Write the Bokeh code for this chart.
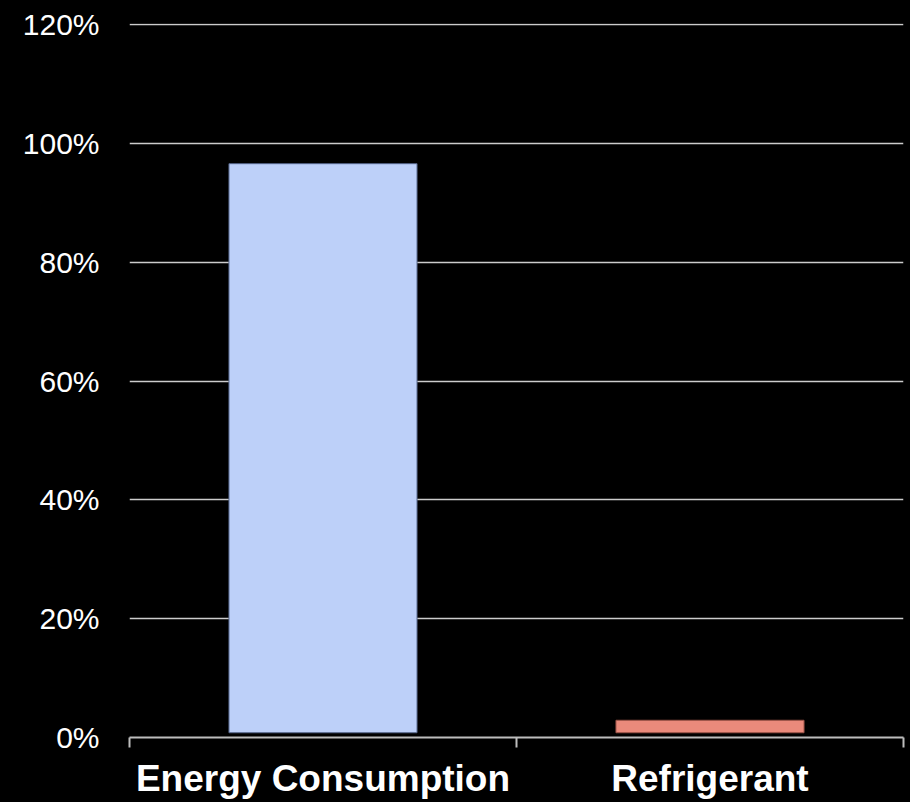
from bokeh.plotting import figure
from bokeh.models import Range1d, FixedTicker, LinearAxis, NumeralTickFormatter
from bokeh.embed import file_html
from bokeh.resources import INLINE

# Data
categories = ["Energy Consumption", "Refrigerant"]
shares = [0.966, 0.029]
bar_colors = ["#BDD0F9", "#EA8A7B"]
edge_colors = ["#55658a", "#9a5247"]
y_ticks = [0, 0.2, 0.4, 0.6, 0.8, 1.0, 1.2]

xs = [i + 0.5 for i in range(len(categories))]

p = figure(width=910, height=802, output_backend="svg", toolbar_location=None,
           x_range=Range1d(0, len(categories)), y_range=Range1d(0, 1.202),
           min_border_left=129, min_border_right=7, min_border_top=23, min_border_bottom=65,
           x_axis_type=None, outline_line_color=None)
p.background_fill_color = "black"
p.border_fill_color = "black"
p.border_line_color = None
p.styles = {"background-color": "black"}

p.vbar(x=xs, width=0.486, bottom=0.008, top=shares, fill_color=bar_colors,
       line_color=edge_colors, line_width=1)

# y axis
ya = p.yaxis[0]
ya.ticker = FixedTicker(ticks=y_ticks)
ya.formatter = NumeralTickFormatter(format="0%")
ya.axis_line_color = None
ya.major_tick_line_color = None
ya.minor_tick_line_color = None
ya.major_tick_out = 0
ya.major_tick_in = 0
ya.major_label_standoff = 30
ya.major_label_text_color = "white"
ya.major_label_text_font = "Liberation Sans"
ya.major_label_text_font_size = "30px"

p.ygrid.ticker = FixedTicker(ticks=y_ticks)
p.ygrid.grid_line_color = "#cccccc"
p.ygrid.grid_line_width = 1.6
p.ygrid.level = "underlay"

# boundary axis (ticks at category edges)
bx = LinearAxis(ticker=FixedTicker(ticks=list(range(len(categories) + 1))))
bx.axis_line_color = "#bdbdbd"
bx.axis_line_width = 2
bx.major_tick_line_color = "#bdbdbd"
bx.major_tick_line_width = 2
bx.major_tick_out = 10
bx.major_tick_in = 0
bx.minor_tick_line_color = None
bx.major_label_text_font_size = "0px"
bx.major_label_standoff = 0
bx.major_label_overrides = {i: "" for i in range(len(categories) + 1)}
p.add_layout(bx, "below")

# label axis at category centers
lx = LinearAxis(ticker=FixedTicker(ticks=xs))
lx.axis_line_color = None
lx.major_tick_line_color = None
lx.minor_tick_line_color = None
lx.major_tick_out = 0
lx.major_tick_in = 0
lx.major_label_standoff = 10
lx.major_label_overrides = {x: c for x, c in zip(xs, categories)}
lx.major_label_text_color = "white"
lx.major_label_text_font = "Liberation Sans"
lx.major_label_text_font_style = "bold"
lx.major_label_text_font_size = "37px"
p.add_layout(lx, "below")

open("out.html", "w").write(file_html(p, INLINE))
